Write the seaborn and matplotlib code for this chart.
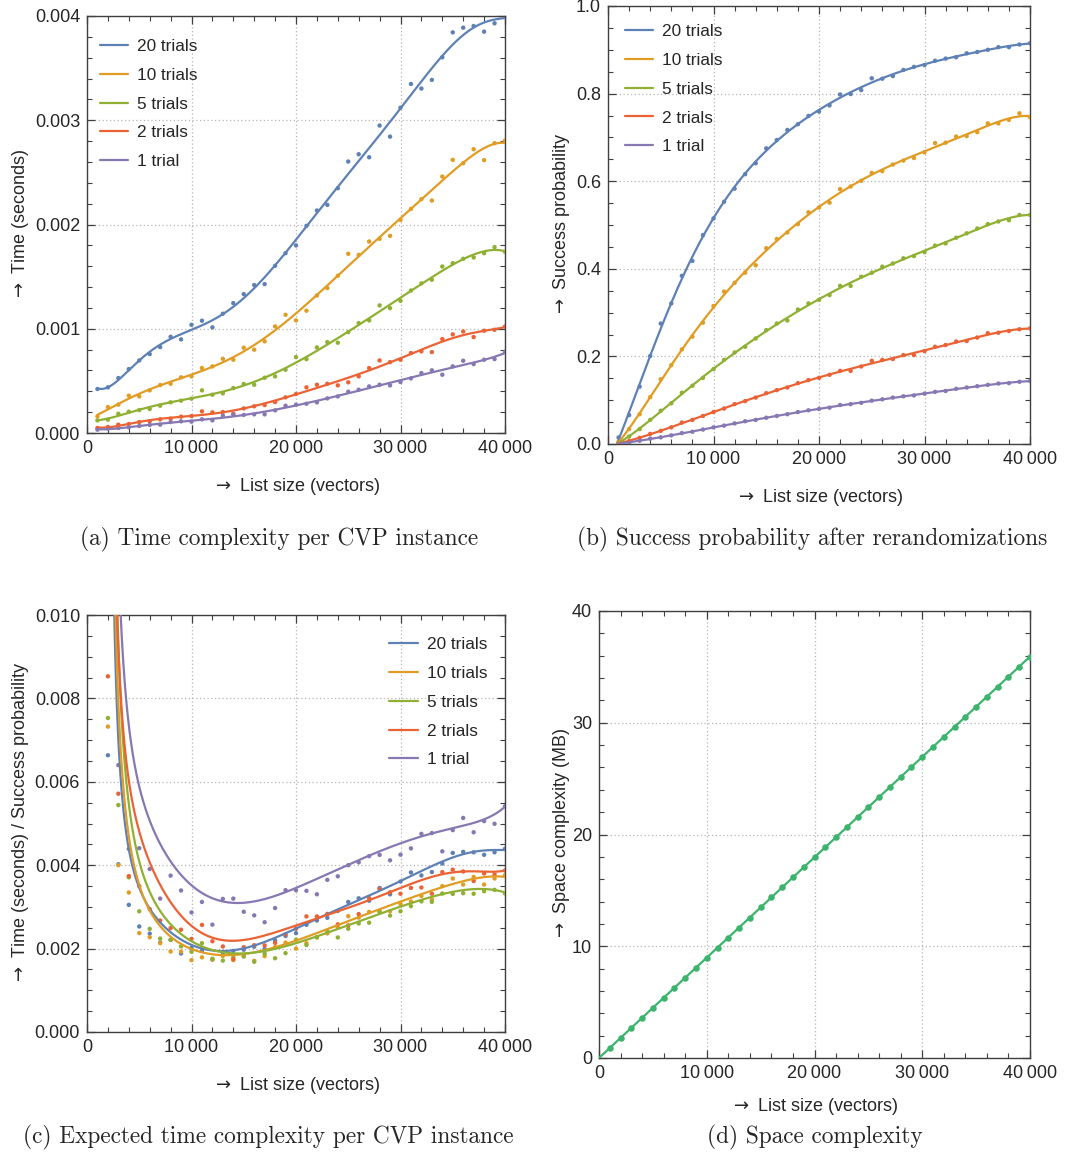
import numpy as np
import pandas as pd
import matplotlib
matplotlib.use("Agg")
import matplotlib.pyplot as plt
import seaborn as sns
from matplotlib.ticker import MultipleLocator, FuncFormatter


# list sizes (vectors) used in every panel
list_size = [1000, 2000, 3000, 4000, 5000, 6000, 7000, 8000, 9000, 10000,
             11000, 12000, 13000, 14000, 15000, 16000, 17000, 18000, 19000, 20000,
             21000, 22000, 23000, 24000, 25000, 26000, 27000, 28000, 29000, 30000,
             31000, 32000, 33000, 34000, 35000, 36000, 37000, 38000, 39000, 40000]

series_names = ["20 trials", "10 trials", "5 trials", "2 trials", "1 trial"]
series_colors = ["#5e81b5", "#e19c24", "#8fb032", "#eb6235", "#8778b3"]

# (a) time per CVP instance (seconds)
time_20 = [0.000422, 0.000438, 0.000527, 0.000613, 0.000696, 0.000757, 0.000824, 0.000923, 0.000898, 0.001038,
           0.001077, 0.001013, 0.001144, 0.001246, 0.001332, 0.001419, 0.001428, 0.001604, 0.001725, 0.001799,
           0.001987, 0.002134, 0.002188, 0.002348, 0.002604, 0.002674, 0.002645, 0.002949, 0.002843, 0.003121,
           0.003348, 0.003304, 0.003387, 0.003604, 0.003843, 0.003888, 0.003904, 0.003850, 0.003930, 0.004020]
time_10 = [0.000160, 0.000249, 0.000272, 0.000358, 0.000351, 0.000409, 0.000460, 0.000473, 0.000534, 0.000543,
           0.000623, 0.000639, 0.000712, 0.000703, 0.000818, 0.000799, 0.000879, 0.001022, 0.001134, 0.001080,
           0.001173, 0.001319, 0.001390, 0.001508, 0.001719, 0.001709, 0.001837, 0.001863, 0.001891, 0.002045,
           0.002150, 0.002243, 0.002230, 0.002460, 0.002620, 0.002588, 0.002722, 0.002617, 0.002780, 0.002805]
time_5 = [0.000121, 0.000128, 0.000185, 0.000204, 0.000220, 0.000230, 0.000262, 0.000294, 0.000310, 0.000329,
          0.000409, 0.000367, 0.000380, 0.000431, 0.000470, 0.000463, 0.000530, 0.000543, 0.000607, 0.000728,
          0.000709, 0.000821, 0.000872, 0.000866, 0.000968, 0.001054, 0.001080, 0.001224, 0.001198, 0.001268,
          0.001367, 0.001435, 0.001470, 0.001597, 0.001629, 0.001671, 0.001684, 0.001725, 0.001783, 0.001738]
time_2 = [0.000048, 0.000058, 0.000080, 0.000086, 0.000105, 0.000112, 0.000131, 0.000137, 0.000157, 0.000163,
          0.000208, 0.000198, 0.000201, 0.000185, 0.000236, 0.000256, 0.000268, 0.000297, 0.000342, 0.000374,
          0.000438, 0.000463, 0.000473, 0.000457, 0.000486, 0.000543, 0.000623, 0.000696, 0.000680, 0.000703,
          0.000767, 0.000783, 0.000776, 0.000901, 0.000946, 0.000974, 0.000920, 0.000981, 0.000990, 0.001022]
time_1 = [0.000032, 0.000042, 0.000048, 0.000054, 0.000067, 0.000077, 0.000080, 0.000105, 0.000112, 0.000109,
          0.000131, 0.000121, 0.000166, 0.000176, 0.000173, 0.000179, 0.000179, 0.000217, 0.000262, 0.000272,
          0.000281, 0.000294, 0.000332, 0.000351, 0.000396, 0.000415, 0.000447, 0.000463, 0.000457, 0.000489,
          0.000524, 0.000575, 0.000601, 0.000559, 0.000639, 0.000693, 0.000661, 0.000703, 0.000709, 0.000780]

# (b) success probability after rerandomizations
prob_20 = [0.015, 0.066, 0.131, 0.201, 0.275, 0.321, 0.384, 0.418, 0.477, 0.515,
           0.553, 0.583, 0.616, 0.641, 0.675, 0.694, 0.717, 0.730, 0.749, 0.759,
           0.773, 0.798, 0.799, 0.808, 0.835, 0.834, 0.840, 0.854, 0.861, 0.865,
           0.875, 0.880, 0.883, 0.892, 0.895, 0.900, 0.906, 0.906, 0.912, 0.915]
prob_10 = [0.005, 0.034, 0.068, 0.107, 0.148, 0.180, 0.216, 0.245, 0.277, 0.315,
           0.348, 0.368, 0.391, 0.408, 0.447, 0.468, 0.483, 0.502, 0.529, 0.540,
           0.551, 0.582, 0.588, 0.601, 0.619, 0.623, 0.638, 0.647, 0.653, 0.666,
           0.687, 0.688, 0.702, 0.703, 0.712, 0.732, 0.732, 0.740, 0.755, 0.746]
prob_5 = [0.003, 0.017, 0.034, 0.055, 0.076, 0.093, 0.117, 0.133, 0.151, 0.171,
          0.192, 0.209, 0.222, 0.241, 0.260, 0.275, 0.282, 0.307, 0.321, 0.329,
          0.340, 0.361, 0.361, 0.382, 0.391, 0.405, 0.412, 0.424, 0.429, 0.438,
          0.453, 0.458, 0.471, 0.481, 0.492, 0.502, 0.508, 0.511, 0.523, 0.523]
prob_2 = [0.0015, 0.0068, 0.014, 0.023, 0.030, 0.038, 0.049, 0.055, 0.064, 0.073,
          0.081, 0.091, 0.098, 0.106, 0.116, 0.123, 0.129, 0.139, 0.146, 0.151,
          0.158, 0.167, 0.167, 0.177, 0.190, 0.192, 0.194, 0.203, 0.203, 0.212,
          0.222, 0.226, 0.234, 0.235, 0.243, 0.253, 0.254, 0.258, 0.262, 0.264]
prob_1 = [0.001, 0.003, 0.0075, 0.0123, 0.0152, 0.0197, 0.025, 0.028, 0.033, 0.038,
          0.042, 0.047, 0.052, 0.055, 0.060, 0.064, 0.068, 0.073, 0.077, 0.080,
          0.083, 0.089, 0.091, 0.094, 0.099, 0.102, 0.106, 0.109, 0.111, 0.115,
          0.119, 0.121, 0.126, 0.129, 0.132, 0.135, 0.138, 0.139, 0.142, 0.144]

# (d) space complexity (MB)
space_mb = [0.90, 1.80, 2.69, 3.59, 4.49, 5.39, 6.29, 7.18, 8.08, 8.98,
            9.88, 10.78, 11.67, 12.57, 13.47, 14.37, 15.27, 16.16, 17.06, 17.96,
            18.86, 19.76, 20.65, 21.55, 22.45, 23.35, 24.25, 25.14, 26.04, 26.94,
            27.84, 28.74, 29.63, 30.53, 31.43, 32.33, 33.23, 34.12, 35.02, 35.92]
space_color = "#3cb46e"

times = [time_20, time_10, time_5, time_2, time_1]
probs = [prob_20, prob_10, prob_5, prob_2, prob_1]


sns.set_theme(style="ticks")
plt.rcParams["font.family"] = ["Liberation Sans", "DejaVu Sans"]
plt.rcParams["mathtext.fontset"] = "dejavusans"
plt.rcParams["axes.edgecolor"] = "#404040"
plt.rcParams["axes.linewidth"] = 1.0

pal = dict(zip(series_names, series_colors))
xs = np.array(list_size, dtype=float)
grid = np.linspace(1000, 40000, 600)
ARROW = r"$\rightarrow$ "
TIME_DEG = 8
PROB_DEG = 7


def scaled(x):
    return (np.asarray(x, dtype=float) - 20500.0) / 19500.0


def poly_fit(y, deg, at):
    c = np.polyfit(scaled(xs), y, deg)
    return np.polyval(c, scaled(at))


def long_frame(xvals, cols):
    rows = []
    for name, vals in zip(series_names, cols):
        rows.append(pd.DataFrame({"size": xvals, "value": vals, "series": name}))
    return pd.concat(rows, ignore_index=True)


def thin_thousands(v, pos):
    if v == 0:
        return "0"
    return f"{int(v):,}".replace(",", "\u2009")


def style_axes(ax, ymax, ymajor, yminor, yfmt, ylabel, xpad=14, ypad=3):
    ax.set_xlim(0, 40000)
    ax.set_ylim(0, ymax)
    ax.xaxis.set_major_locator(MultipleLocator(10000))
    ax.xaxis.set_minor_locator(MultipleLocator(2000))
    ax.yaxis.set_major_locator(MultipleLocator(ymajor))
    ax.yaxis.set_minor_locator(MultipleLocator(yminor))
    ax.xaxis.set_major_formatter(FuncFormatter(thin_thousands))
    ax.yaxis.set_major_formatter(FuncFormatter(yfmt))
    ax.tick_params(which="both", direction="in", top=True, right=True,
                   color="#404040", labelsize=13, pad=5)
    ax.tick_params(which="major", length=6, width=0.9)
    ax.tick_params(which="minor", length=3.5, width=0.8)
    ax.grid(True, which="major", linestyle=(0, (1, 2)), color="#b5b5b5", linewidth=0.9)
    ax.set_axisbelow(True)
    ax.set_xlabel(ARROW + "List size (vectors)", fontsize=13, labelpad=xpad)
    ax.set_ylabel(ARROW + ylabel, fontsize=13, labelpad=ypad)
    for s in ax.spines.values():
        s.set_visible(True)


def draw_series(ax, pts, crv, legend_loc, anchor):
    sns.scatterplot(data=pts, x="size", y="value", hue="series", palette=pal,
                    s=10, linewidth=0, ax=ax, legend=False, zorder=3)
    sns.lineplot(data=crv, x="size", y="value", hue="series", palette=pal,
                 estimator=None, sort=False, linewidth=1.6, ax=ax, zorder=4)
    h, l = ax.get_legend_handles_labels()
    ax.legend(h, l, loc=legend_loc, bbox_to_anchor=anchor, frameon=False,
              fontsize=12.4, labelspacing=0.8, handlelength=1.63,
              handletextpad=0.52, borderaxespad=0, borderpad=0)


fig = plt.figure(figsize=(10.83, 11.56), dpi=100)
W, H = 1083.0, 1156.0


def add_axes(l, t, r, b):
    return fig.add_axes([l / W, 1 - b / H, (r - l) / W, (b - t) / H])


ax_a = add_axes(87, 16, 505, 433)
ax_b = add_axes(608, 6, 1030, 444)
ax_c = add_axes(87, 615, 505, 1032)
ax_d = add_axes(599, 611, 1030, 1058)

# (a) time complexity
fit_time = [poly_fit(y, TIME_DEG, grid) for y in times]
draw_series(ax_a, long_frame(xs, times), long_frame(grid, fit_time),
            "upper left", (0.031, 0.945))
style_axes(ax_a, 0.004, 0.001, 0.0002, lambda v, p: f"{v:.3f}", "Time (seconds)")

# (b) success probability
fit_prob = [poly_fit(y, PROB_DEG, grid) for y in probs]
draw_series(ax_b, long_frame(xs, probs), long_frame(grid, fit_prob),
            "upper left", (0.040, 0.959))
style_axes(ax_b, 1.0, 0.2, 0.05, lambda v, p: f"{v:.1f}", "Success probability")

# (c) expected time = time / success probability
# the curve divides the time fit by the probability fit one list step (1000) earlier
ratio_pts = [np.array(t) / np.array(p) for t, p in zip(times, probs)]
grid_c = np.linspace(2000, 40000, 800)
ratio_fit = []
for t, p in zip(times, probs):
    r = poly_fit(t, TIME_DEG, grid_c) / poly_fit(p, PROB_DEG, grid_c - 1000)
    r[(r > 0.08) | (r < 0)] = np.nan
    ratio_fit.append(r)
crv_c = long_frame(grid_c, ratio_fit).dropna()
pts_c = long_frame(xs, ratio_pts)
pts_c = pts_c[pts_c["value"] <= 0.0101]
draw_series(ax_c, pts_c, crv_c, "upper right", (0.957, 0.947))
style_axes(ax_c, 0.010, 0.002, 0.0005, lambda v, p: f"{v:.3f}",
           "Time (seconds) / Success probability")

# (d) space complexity
line_x = np.linspace(0, 40000, 50)
line_d = poly_fit(space_mb, 1, line_x)
sns.lineplot(x=line_x, y=line_d, color=space_color, linewidth=1.6, ax=ax_d, zorder=3)
sns.scatterplot(x=xs, y=space_mb, color=space_color, s=22, linewidth=0, ax=ax_d, zorder=4)
style_axes(ax_d, 40, 10, 2, lambda v, p: f"{v:.0f}", "Space complexity (MB)",
           xpad=10, ypad=0)

# captions
cap_kw = dict(fontsize=16.8, family="cmr10", ha="center", va="center")
fig.text(279 / W, 1 - 539 / H, "(a) Time complexity per CVP instance", **cap_kw)
fig.text(812 / W, 1 - 539 / H, "(b) Success probability after rerandomizations", **cap_kw)
fig.text(268 / W, 1 - 1137 / H, "(c) Expected time complexity per CVP instance", **cap_kw)
fig.text(815 / W, 1 - 1137 / H, "(d) Space complexity", **cap_kw)

fig.savefig("out.png", dpi=100)
